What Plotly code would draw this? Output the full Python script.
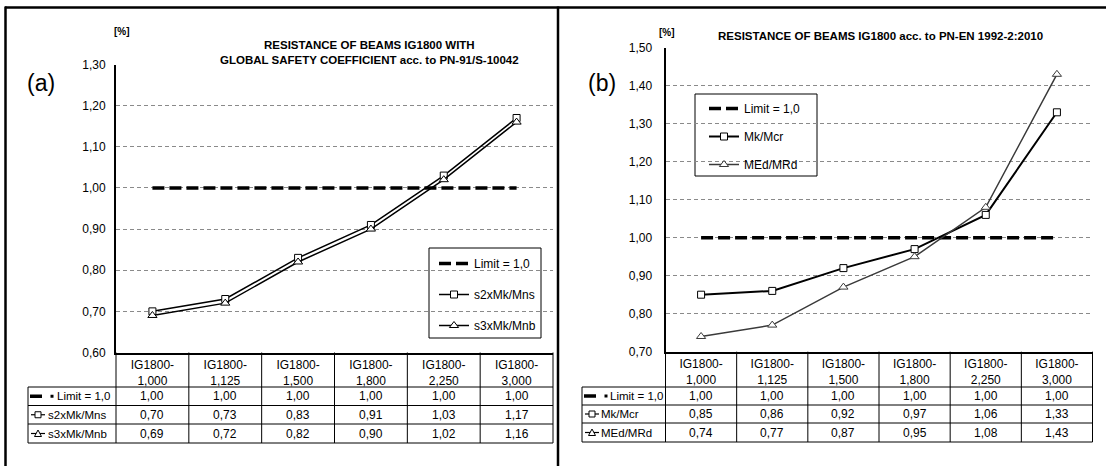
import plotly.graph_objects as go

W, H = 1106, 466

# ---------------- data ----------------
categories = ["IG1800-1,000", "IG1800-1,125", "IG1800-1,500",
              "IG1800-1,800", "IG1800-2,250", "IG1800-3,000"]
limit_vals = [1.00, 1.00, 1.00, 1.00, 1.00, 1.00]
a_s2 = [0.70, 0.73, 0.83, 0.91, 1.03, 1.17]
a_s3 = [0.69, 0.72, 0.82, 0.90, 1.02, 1.16]
b_mk = [0.85, 0.86, 0.92, 0.97, 1.06, 1.33]
b_med = [0.74, 0.77, 0.87, 0.95, 1.08, 1.43]
a_yticks = [0.60, 0.70, 0.80, 0.90, 1.00, 1.10, 1.20, 1.30]
b_yticks = [0.70, 0.80, 0.90, 1.00, 1.10, 1.20, 1.30, 1.40, 1.50]
names_a = ["Limit = 1,0", "s2xMk/Mns", "s3xMk/Mnb"]
names_b = ["Limit = 1,0", "Mk/Mcr", "MEd/MRd"]
title_a = "RESISTANCE OF BEAMS IG1800 WITH<br>GLOBAL SAFETY COEFFICIENT acc. to PN-91/S-10042"
title_b = "RESISTANCE OF BEAMS IG1800 acc. to PN-EN 1992-2:2010"
unit_label = "[%]"
panel_labels = ["(a)", "(b)"]

FONT = "Liberation Sans, Arial, sans-serif"


def fmt(v):
    return f"{v:.2f}".replace(".", ",")


def X(px):
    return px / W


def Y(py):
    return 1 - py / H


# ---------------- geometry (pixels) ----------------
A = dict(x0=116, x1=553, ytop=64.5, ybot=352.5, tleft=28,
         rows=[352.5, 387, 405.5, 424, 443], xkey=30)
B = dict(x0=665.5, x1=1092.5, ytop=47.7, ybot=351.7, tleft=582,
         rows=[351.7, 387, 405, 423, 442], xkey=584)

fig = go.Figure()

dash_limit = "12px,5px"

# panel a traces
fig.add_trace(go.Scatter(x=categories, y=limit_vals, name=names_a[0], mode="lines",
                         line=dict(color="black", width=3.5, dash=dash_limit),
                         xaxis="x", yaxis="y", legend="legend", legendgroup="a0"))
fig.add_trace(go.Scatter(x=categories, y=a_s2, name=names_a[1], mode="lines+markers",
                         line=dict(color="black", width=1.5),
                         marker=dict(symbol="square", size=7, color="white",
                                     line=dict(color="black", width=1)),
                         xaxis="x", yaxis="y", legend="legend", legendgroup="a1"))
fig.add_trace(go.Scatter(x=categories, y=a_s3, name=names_a[2], mode="lines+markers",
                         line=dict(color="black", width=1.5),
                         marker=dict(symbol="triangle-up", size=8, color="white",
                                     line=dict(color="black", width=1)),
                         xaxis="x", yaxis="y", legend="legend", legendgroup="a2"))
# panel b traces
fig.add_trace(go.Scatter(x=categories, y=limit_vals, name=names_b[0], mode="lines",
                         line=dict(color="black", width=3.5, dash=dash_limit),
                         xaxis="x2", yaxis="y2", legend="legend2", legendgroup="b0"))
fig.add_trace(go.Scatter(x=categories, y=b_mk, name=names_b[1], mode="lines+markers",
                         line=dict(color="black", width=2),
                         marker=dict(symbol="square", size=7, color="white",
                                     line=dict(color="black", width=1)),
                         xaxis="x2", yaxis="y2", legend="legend2", legendgroup="b1"))
fig.add_trace(go.Scatter(x=categories, y=b_med, name=names_b[2], mode="lines+markers",
                         line=dict(color="#3a3a3a", width=1.5),
                         marker=dict(symbol="triangle-up", size=8, color="white",
                                     line=dict(color="#3a3a3a", width=1)),
                         xaxis="x2", yaxis="y2", legend="legend2", legendgroup="b2"))

ticktext_x = [c.replace("-", "-<br>") for c in categories]

common_x = dict(type="category", categoryorder="array", categoryarray=categories,
                tickvals=categories, ticktext=ticktext_x, showgrid=False,
                showline=True, linecolor="black", linewidth=2, ticks="",
                tickfont=dict(family=FONT, size=12, color="black"),
                range=[-0.5, 5.5], zeroline=False, automargin=False)
common_y = dict(showgrid=True, gridcolor="#8a8a8a", griddash="4px,3px", gridwidth=1,
                showline=True, linecolor="black", linewidth=2, ticks="",
                tickfont=dict(family=FONT, size=12, color="black"), zeroline=False,
                automargin=False)

shapes = []
ann = []

# outer frame
shapes.append(dict(type="line", xref="paper", yref="paper", x0=X(5), x1=X(1106),
                   y0=Y(7.5), y1=Y(7.5), line=dict(color="black", width=2.5)))
shapes.append(dict(type="line", xref="paper", yref="paper", x0=X(5.5), x1=X(5.5),
                   y0=Y(6.5), y1=Y(466), line=dict(color="black", width=2.5)))
shapes.append(dict(type="line", xref="paper", yref="paper", x0=X(558), x1=X(558),
                   y0=Y(6.5), y1=Y(466), line=dict(color="black", width=2.5)))

# legend boxes
for (lx0, lx1, ly0, ly1) in [(429, 541, 248, 338), (695, 817, 94, 176)]:
    shapes.append(dict(type="rect", xref="paper", yref="paper", layer="between",
                       x0=X(lx0), x1=X(lx1), y0=Y(ly0), y1=Y(ly1),
                       fillcolor="white", line=dict(color="black", width=1)))


def table(G, xaxis_name, values_rows, names, xtext):
    xd = xaxis_name + " domain"
    rows = G["rows"]
    for ry in rows[1:]:
        shapes.append(dict(type="line", xref="paper", yref="paper",
                           x0=X(G["tleft"]), x1=X(G["x1"]), y0=Y(ry), y1=Y(ry),
                           line=dict(color="black", width=1)))
    n = len(categories)
    for k in range(n + 1):
        shapes.append(dict(type="line", xref=xd, yref="paper", x0=k / n, x1=k / n,
                           y0=Y(rows[0]), y1=Y(rows[-1]),
                           line=dict(color="black", width=1)))
    shapes.append(dict(type="line", xref="paper", yref="paper", x0=X(G["tleft"]),
                       x1=X(G["tleft"]), y0=Y(rows[1]), y1=Y(rows[-1]),
                       line=dict(color="black", width=1)))
    for r, vals in enumerate(values_rows):
        cy = (rows[r + 1] + rows[r + 2]) / 2
        for c, v in zip(categories, vals):
            ann.append(dict(xref=xaxis_name, yref="paper", x=c, y=Y(cy), text=fmt(v),
                            showarrow=False, xanchor="center", yanchor="middle",
                            font=dict(family=FONT, size=12, color="black")))
        ann.append(dict(xref="paper", yref="paper", x=X(xtext[r]), y=Y(cy), text=names[r],
                        showarrow=False, xanchor="left", yanchor="middle",
                        font=dict(family=FONT, size=11.5, color="black")))
        k0 = G["xkey"]
        if r == 0:
            shapes.append(dict(type="line", xref="paper", yref="paper", x0=X(k0), x1=X(k0 + 12),
                               y0=Y(cy), y1=Y(cy), line=dict(color="black", width=3.5)))
            shapes.append(dict(type="rect", xref="paper", yref="paper", x0=X(k0 + 20.5),
                               x1=X(k0 + 23.5), y0=Y(cy - 1.5), y1=Y(cy + 1.5),
                               fillcolor="black", line=dict(width=0)))
        else:
            shapes.append(dict(type="line", xref="paper", yref="paper", x0=X(k0 + 1), x1=X(k0 + 15),
                               y0=Y(cy), y1=Y(cy), line=dict(color="black", width=1.2)))
            mc = k0 + 8
            if r == 1:
                shapes.append(dict(type="rect", xref="paper", yref="paper", x0=X(mc - 3),
                                   x1=X(mc + 3), y0=Y(cy - 3), y1=Y(cy + 3),
                                   fillcolor="white", line=dict(color="black", width=1)))
            else:
                path = (f"M{X(mc - 3.5)},{Y(cy + 3)} L{X(mc + 3.5)},{Y(cy + 3)} "
                        f"L{X(mc)},{Y(cy - 3.5)} Z")
                shapes.append(dict(type="path", xref="paper", yref="paper", path=path,
                                   fillcolor="white", line=dict(color="black", width=1)))


table(A, "x", [limit_vals, a_s2, a_s3], names_a, [55, 46, 46])
table(B, "x2", [limit_vals, b_mk, b_med], names_b, [608, 599, 599])

# titles and labels
ann.append(dict(xref="paper", yref="paper", x=X(369), y=Y(52), text=title_a,
                showarrow=False, xanchor="center", yanchor="middle", align="center",
                bgcolor="white", font=dict(family=FONT, size=11.5, color="black", weight="bold")))
ann.append(dict(xref="paper", yref="paper", x=X(880), y=Y(36), text=title_b,
                showarrow=False, xanchor="center", yanchor="middle",
                font=dict(family=FONT, size=11.5, color="black", weight="bold")))
ann.append(dict(xref="paper", yref="paper", x=X(122), y=Y(31), text=unit_label,
                showarrow=False, xanchor="center", yanchor="middle",
                font=dict(family=FONT, size=10, color="black", weight="bold")))
ann.append(dict(xref="paper", yref="paper", x=X(667), y=Y(33), text=unit_label,
                showarrow=False, xanchor="center", yanchor="middle",
                font=dict(family=FONT, size=10, color="black", weight="bold")))
ann.append(dict(xref="paper", yref="paper", x=X(41), y=Y(83), text=panel_labels[0],
                showarrow=False, xanchor="center", yanchor="middle",
                font=dict(family=FONT, size=23, color="black")))
ann.append(dict(xref="paper", yref="paper", x=X(602), y=Y(83), text=panel_labels[1],
                showarrow=False, xanchor="center", yanchor="middle",
                font=dict(family=FONT, size=23, color="black")))

legend_common = dict(bgcolor="rgba(0,0,0,0)", borderwidth=0, orientation="v",
                     xanchor="left", yanchor="top", itemwidth=30,
                     font=dict(family=FONT, size=12, color="black"))

fig.update_layout(
    width=W, height=H,
    margin=dict(l=0, r=0, t=0, b=0, pad=0, autoexpand=False),
    paper_bgcolor="white", plot_bgcolor="white",
    showlegend=True,
    xaxis=dict(common_x, domain=[X(A["x0"]), X(A["x1"])], anchor="y"),
    yaxis=dict(common_y, domain=[Y(A["ybot"]), Y(A["ytop"])], anchor="x",
               range=[0.6, 1.3], tickvals=a_yticks, ticktext=[fmt(v) for v in a_yticks],
               ticklabelstandoff=6),
    xaxis2=dict(common_x, domain=[X(B["x0"]), X(B["x1"])], anchor="y2"),
    yaxis2=dict(common_y, domain=[Y(B["ybot"]), Y(B["ytop"])], anchor="x2",
                range=[0.7, 1.5], tickvals=b_yticks, ticktext=[fmt(v) for v in b_yticks],
                ticklabelstandoff=9),
    legend=dict(legend_common, x=X(434), y=Y(249), tracegroupgap=12),
    legend2=dict(legend_common, x=X(704), y=Y(94), tracegroupgap=9),
    shapes=shapes, annotations=ann,
)

fig.write_html(
    "out.html",
    config={"displayModeBar": False},
    post_script="document.body.style.margin='0';document.body.style.padding='0';"
                "document.body.style.overflow='hidden';"
                "document.documentElement.style.overflow='hidden';",
)
